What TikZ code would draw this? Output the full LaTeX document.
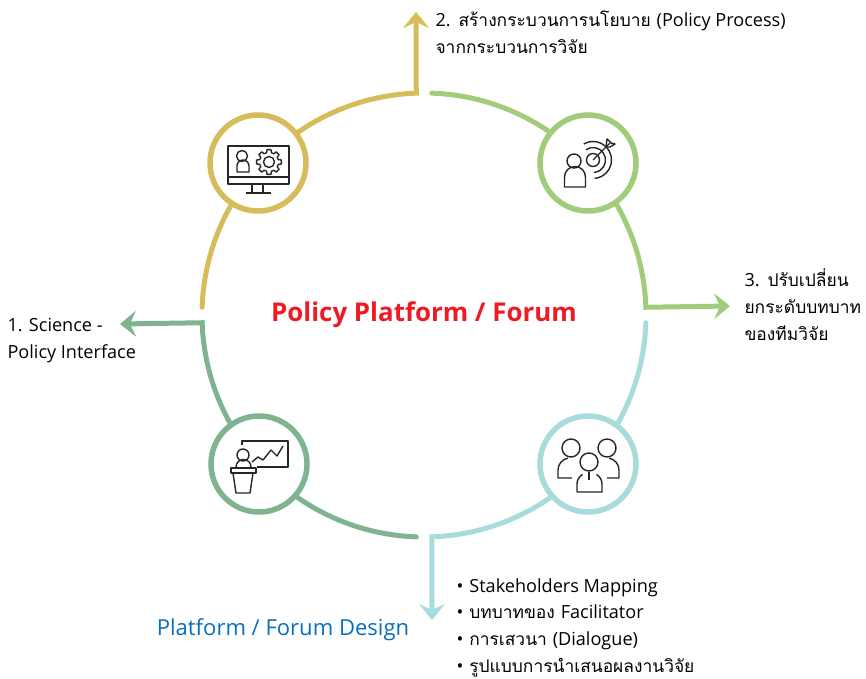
\documentclass[tikz,border=0pt]{standalone}
\usepackage{fontspec}
\setmainfont[Script=Thai]{Loma}
\newfontfamily\latinfont[Scale=1.04]{Open Sans}
\newcommand{\lat}[1]{{\latinfont #1}}
\usetikzlibrary{arrows.meta}
\definecolor{monitorcol}{HTML}{D6BC5A}
\definecolor{targetcol}{HTML}{A0CC7C}
\definecolor{groupcol}{HTML}{A8DCDC}
\definecolor{speakercol}{HTML}{80B491}
\definecolor{titlecol}{HTML}{ED1C24}
\definecolor{designcol}{HTML}{0A70BE}
\definecolor{inkcol}{HTML}{262626}

\tikzstyle{ring} = [circle, fill=white, line width=5.5pt, minimum size=96pt, inner sep=0pt]
\tikzstyle{tipped} = [line width=5pt, line join=miter, line cap=round, -{Stealth[length=16pt, width=26pt, inset=6pt]}]
\tikzstyle{icon} = [draw=inkcol, line width=1.4pt, line join=round]
\tikzstyle{note} = [anchor=west, align=left, text=black, font=\fontsize{17.4}{26.6}\selectfont]

\begin{document}
\begin{tikzpicture}[x=1pt, y=1pt]
\useasboundingbox (0,0) rectangle (866,678);
\coordinate (hub) at (424,363);
\coordinate (tipone) at (120,354);
\coordinate (tiptwo) at (416,666);
\coordinate (tipthree) at (730,372);
\coordinate (tipdesign) at (432,58);

\draw[tipped, speakercol] (hub) ++(268:222) arc[start angle=268, end angle=182, radius=222] -- (tipone);
\draw[tipped, monitorcol] (hub) ++(178:222) arc[start angle=178, end angle=92, radius=222] -- (tiptwo);
\draw[tipped, targetcol] (hub) ++(88:222) arc[start angle=88, end angle=2, radius=222] -- (tipthree);
\draw[tipped, groupcol] (hub) ++(-2:222) arc[start angle=-2, end angle=-88, radius=222] -- (tipdesign);

\node[ring, draw=monitorcol] (monitor) at (258,515) {};
\node[ring, draw=targetcol] (target) at (588,515) {};
\node[ring, draw=speakercol] (speaker) at (259,214) {};
\node[ring, draw=groupcol] (group) at (588,214) {};

\node[font=\fontsize{24.9}{30}\selectfont\bfseries\latinfont, text=titlecol] (title) at (424,363) {Policy Platform / Forum};
\node[font=\fontsize{21.2}{26}\selectfont\latinfont, text=designcol] (design) at (283,48) {Platform / Forum Design};
\node[note] (one) at (4,337.5) {\lat{1. Science -}\\\lat{Policy Interface}};
\node[note] (two) at (432,645.5) {\lat{2.} สร้างกระบวนการนโยบาย \lat{(Policy Process)}\\จากกระบวนการวิจัย};
\node[note] (three) at (741,373.5) {\lat{3.} ปรับเปลี่ยน\\ยกระดับบทบาท\\ของทีมวิจัย};
\node[note] (list) at (453,50.5) {\lat{•\,\,Stakeholders Mapping}\\\lat{•\,}\,บทบาทของ \lat{Facilitator}\\\lat{•\,}\,การเสวนา \lat{(Dialogue)}\\\lat{•\,}\,รูปแบบการนำเสนอผลงานวิจัย};

% monitor
\draw[icon] (228,532) rectangle (289,494);
\draw[icon, line width=2pt] (228,501) -- (289,501);
\draw[icon] (252,493) -- (252,485) (263,493) -- (263,485) (246,485) -- (271,485);
\draw[icon] (242,522) circle[radius=5.5];
\draw[icon] (237,506) -- (237,512) arc[start angle=180, end angle=0, radius=6] -- (249,506) -- cycle;
\begin{scope}[shift={(269,516)}]
\draw[icon] (0,0) circle[radius=5.5];
\foreach \a in {0,45,...,315} {
  \draw[icon] (\a-15:9.5) -- (\a-9:12.5) -- (\a+9:12.5) -- (\a+15:9.5) arc[start angle=\a+15, end angle=\a+30, radius=9.5];
}
\end{scope}

% target
\draw[icon] (574,517) circle[radius=7];
\draw[icon] (564.5,491) -- (564.5,501) arc[start angle=180, end angle=0, radius=10.5] -- (585.5,491) -- cycle;
\draw[icon] (593,518) circle[radius=6.5];
\draw[icon] (593,518) ++(125:12.5) arc[start angle=125, end angle=-85, radius=12.5];
\draw[icon] (593,518) ++(120:18.5) arc[start angle=120, end angle=-85, radius=18.5];
\draw[icon] (593,518) -- (610,535);
\draw[icon] (606,531) -- (607,539) -- (611,535) -- (615,534) -- (610,531) -- cycle;

% speaker
\draw[icon] (242,233) -- (242,237) -- (288,237) -- (288,211) -- (257,211);
\draw[icon] (252,216) -- (258,221) -- (263,218) -- (271,228) -- (277,222) -- (283,232);
\draw[icon] (243,223) circle[radius=6];
\draw[icon] (236,211) arc[start angle=180, end angle=0, radius=7.5];
\draw[icon] (231,205) rectangle (256,210);
\draw[icon] (233,205) -- (236,185) -- (250,185) -- (253,205);

% group
\draw[icon] (571,230) circle[radius=9];
\draw[icon] (607,230) circle[radius=9];
\draw[icon] (589,216) circle[radius=9];
\draw[icon] (572,200) -- (558,200) -- (558,208) arc[start angle=180, end angle=100, radius=12];
\draw[icon] (607,200) -- (619,200) -- (619,208) arc[start angle=0, end angle=80, radius=12];
\draw[icon] (577,186) -- (602,186) -- (602,194) arc[start angle=0, end angle=60, radius=11];
\draw[icon] (577,186) -- (577,194) arc[start angle=180, end angle=120, radius=11];
\draw[icon] (589,206) -- (589,198);
\end{tikzpicture}
\end{document}
